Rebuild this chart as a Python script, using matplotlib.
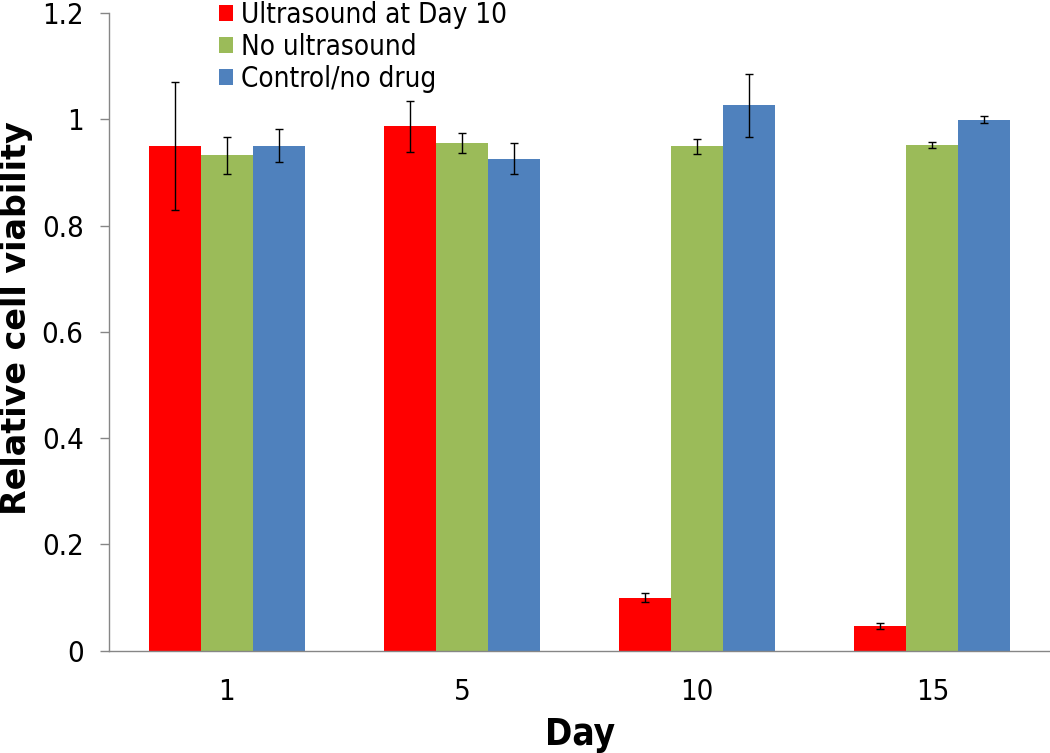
import numpy as np
import matplotlib.pyplot as plt

days = ['1', '5', '10', '15']
series = ['Ultrasound at Day 10', 'No ultrasound', 'Control/no drug']
ultrasound = [0.950, 0.987, 0.100, 0.046]
ultrasound_err = [0.120, 0.048, 0.009, 0.0055]
no_ultrasound = [0.932, 0.956, 0.949, 0.951]
no_ultrasound_err = [0.035, 0.019, 0.014, 0.0055]
control = [0.950, 0.926, 1.026, 0.999]
control_err = [0.031, 0.029, 0.059, 0.0065]
yticks = [0, 0.2, 0.4, 0.6, 0.8, 1.0, 1.2]
ytick_labels = ['0', '0.2', '0.4', '0.6', '0.8', '1', '1.2']

colors = ['#FF0000', '#9BBB59', '#4F81BD']
grey = '#868686'

plt.rcParams['font.family'] = 'DejaVu Sans'
plt.rcParams['font.stretch'] = 'condensed'

fig = plt.figure(figsize=(10.5, 7.53), dpi=100)
ax = fig.add_axes([0.1041, 0.1359, 0.8959, 0.8468])

x = np.arange(len(days))
w = 0.221
values = [ultrasound, no_ultrasound, control]
errors = [ultrasound_err, no_ultrasound_err, control_err]
for i in range(3):
    ax.bar(x + (i - 1) * w, values[i], w, color=colors[i], label=series[i],
           yerr=errors[i], capsize=2.6,
           error_kw=dict(ecolor='black', elinewidth=1.0, capthick=1.0),
           zorder=2)

ax.set_xlim(-0.5, 3.5)
ax.set_ylim(0, 1.2)
ax.set_xticks(x)
ax.set_xticklabels(days)
ax.set_yticks(yticks)
ax.set_yticklabels(ytick_labels)
ax.tick_params(axis='x', length=0, pad=20, labelsize=21)
ax.tick_params(axis='y', length=6.5, width=1, color=grey, pad=12,
               labelsize=21, direction='out')
for s in ['top', 'right']:
    ax.spines[s].set_visible(False)
for s in ['left', 'bottom']:
    ax.spines[s].set_color(grey)
    ax.spines[s].set_linewidth(1)

ax.legend(loc='upper left', bbox_to_anchor=(219 / 1050, 0.9985),
          bbox_transform=fig.transFigure, frameon=False, fontsize=20,
          handlelength=0.5, handleheight=0.5, handletextpad=0.3,
          labelspacing=0.14, borderpad=0, borderaxespad=0)

fig.text(0.016, 0.578, 'Relative cell viability', rotation=90, ha='center',
         va='center', fontsize=24, fontweight='bold', fontstretch='normal')
fig.text(579.6 / 1050, 1 - 745 / 753, 'Day', ha='center', va='baseline',
         fontsize=26.5, fontweight='bold')

plt.savefig('out.png', dpi=100)
